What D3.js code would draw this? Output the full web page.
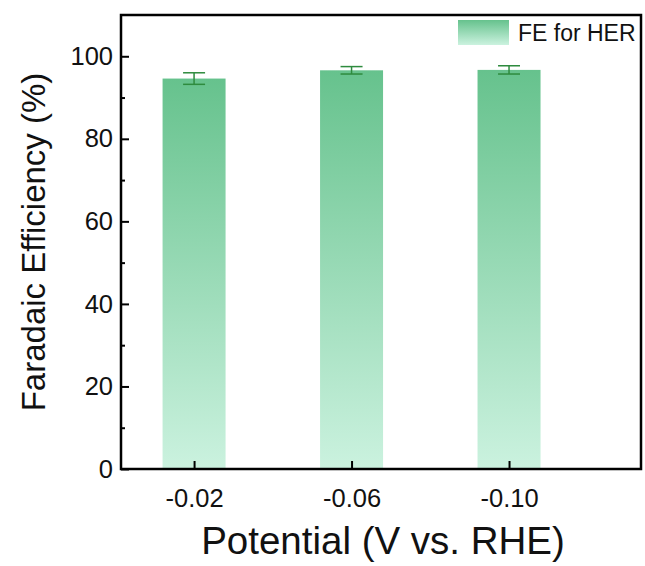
<!DOCTYPE html>
<html>
<head>
<meta charset="utf-8">
<script src="https://cdn.jsdelivr.net/npm/d3@7"></script>
<style>
  body { margin: 0; background: #fff; }
  svg { font-family: Arial, "Liberation Sans", sans-serif; }
</style>
</head>
<body>
<div id="chart"></div>
<script>
// data
const potentials = ['-0.02', '-0.06', '-0.10'];
const feValues = [94.6, 96.6, 96.7];
const feErrors = [1.4, 0.9, 1.0];
const yTicks = [0, 20, 40, 60, 80, 100];
const seriesName = 'FE for HER';

const W = 645, H = 566;
const margin = { top: 15, right: 4, bottom: 97, left: 121 };
const width = W - margin.left - margin.right;
const height = H - margin.top - margin.bottom;
const font = 'Arial, "Liberation Sans", sans-serif';

const svg = d3.select('#chart').append('svg')
  .attr('width', W).attr('height', H);

const defs = svg.append('defs');
const grad = defs.append('linearGradient')
  .attr('id', 'barGrad').attr('x1', 0).attr('y1', 0).attr('x2', 0).attr('y2', 1);
grad.append('stop').attr('offset', '0%').attr('stop-color', '#66c28d');
grad.append('stop').attr('offset', '100%').attr('stop-color', '#cbf2df');

const g = svg.append('g').attr('transform', `translate(${margin.left},${margin.top})`);

// x positions are 1,2,3 on a linear axis
const x = d3.scaleLinear().domain([0.536, 3.838]).range([0, width]);
const y = d3.scaleLinear().domain([0, 110]).range([height, 0]);
const barW = 63;

// bars
g.selectAll('rect.bar')
  .data(feValues)
  .enter().append('rect')
  .attr('class', 'bar')
  .attr('x', (d, i) => x(i + 1) - barW / 2)
  .attr('y', d => y(d))
  .attr('width', barW)
  .attr('height', d => height - y(d))
  .attr('fill', 'url(#barGrad)');

// error bars
const errColor = '#2e8b3e';
const capW = 22;
feValues.forEach((v, i) => {
  const cx = x(i + 1);
  const e = feErrors[i];
  g.append('line').attr('x1', cx).attr('x2', cx)
    .attr('y1', y(v + e)).attr('y2', y(v - e))
    .attr('stroke', errColor).attr('stroke-width', 1.5);
  [v + e, v - e].forEach(t => {
    g.append('line').attr('x1', cx - capW / 2).attr('x2', cx + capW / 2)
      .attr('y1', y(t)).attr('y2', y(t))
      .attr('stroke', errColor).attr('stroke-width', 1.5);
  });
});

// axes: inward ticks
const yAxis = g.append('g')
  .call(d3.axisLeft(y).tickValues(yTicks).tickSize(-8).tickPadding(8))
  .call(s => s.select('.domain').remove())
  .attr('font-family', font).attr('font-size', 25.5);
yAxis.selectAll('text').attr('fill', '#111');
yAxis.selectAll('line').attr('stroke', '#000').attr('stroke-width', 2);

// minor y ticks
g.append('g')
  .call(d3.axisLeft(y).tickValues([10, 30, 50, 70, 90]).tickSize(-4).tickFormat(''))
  .call(s => s.select('.domain').remove())
  .selectAll('line').attr('stroke', '#000').attr('stroke-width', 2);

const xAxis = g.append('g').attr('transform', `translate(0,${height})`)
  .call(d3.axisBottom(x).tickValues([1, 2, 3]).tickFormat((d, i) => potentials[i])
    .tickSize(-8).tickPadding(20))
  .call(s => s.select('.domain').remove())
  .attr('font-family', font).attr('font-size', 25.5);
xAxis.selectAll('text').attr('fill', '#111');
xAxis.selectAll('line').attr('stroke', '#000').attr('stroke-width', 2);

// frame
g.append('rect').attr('width', width).attr('height', height)
  .attr('fill', 'none').attr('stroke', '#000').attr('stroke-width', 2.5);

// axis titles
svg.append('text')
  .attr('x', margin.left + width / 2 + 2).attr('y', 554)
  .attr('text-anchor', 'middle').attr('font-size', 38.5).attr('fill', '#111')
  .text('Potential (V vs. RHE)');

svg.append('text')
  .attr('transform', `translate(45,${margin.top + height / 2}) rotate(-90)`)
  .attr('text-anchor', 'middle').attr('font-size', 33).attr('fill', '#111')
  .text('Faradaic Efficiency (%)');

// legend
const lg = svg.append('g').attr('transform', 'translate(458,20)');
lg.append('rect').attr('width', 51).attr('height', 25).attr('fill', 'url(#barGrad)');
lg.append('text').attr('x', 60).attr('y', 21).attr('font-size', 23).attr('fill', '#111')
  .text(seriesName);
</script>
</body>
</html>
